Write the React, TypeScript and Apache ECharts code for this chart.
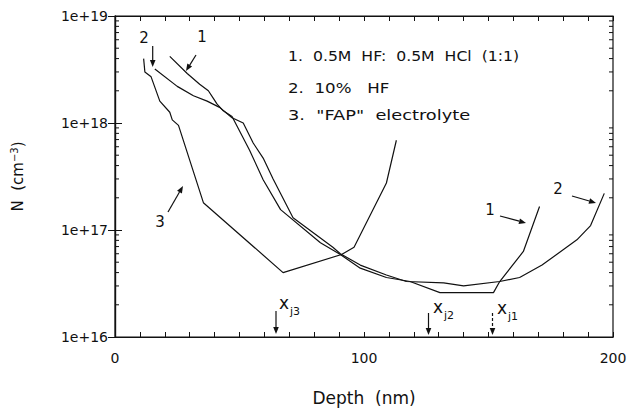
import React, { useEffect, useRef } from 'react';
import * as echarts from 'echarts';

// Curve 1: 0.5M HF : 0.5M HCl (1:1)
const depth1 = [22, 29, 34, 37.5, 39.5, 41, 43.5, 47, 54, 59.5, 66.5, 82.5, 90.5, 98.5, 109, 118.5, 130.5, 152, 154.5, 164, 170.5];
const conc1 = [4.2e18, 2.9e18, 2.3e18, 2.0e18, 1.7e18, 1.5e18, 1.3e18, 1.15e18, 5.6e17, 2.95e17, 1.55e17, 7.6e16, 5.9e16, 4.4e16, 3.6e16, 3.3e16, 2.6e16, 2.6e16, 3.3e16, 6.3e16, 1.66e17];

// Curve 2: 10% HF
const depth2 = [16, 25, 31.5, 37, 42, 47, 51.5, 55.5, 59.5, 63.5, 71.5, 87.5, 90.5, 98.5, 109, 117, 132, 140, 154.5, 162.5, 171.5, 185.5, 191, 196.5];
const conc2 = [3.2e18, 2.2e18, 1.8e18, 1.6e18, 1.4e18, 1.12e18, 1.0e18, 6.5e17, 4.7e17, 3.0e17, 1.3e17, 6.9e16, 6.0e16, 4.7e16, 3.8e16, 3.3e16, 3.2e16, 3.0e16, 3.3e16, 3.6e16, 4.7e16, 8.1e16, 1.1e17, 2.2e17];

// Curve 3: "FAP" electrolyte
const depth3 = [11.5, 12, 14.5, 18, 22, 23, 25.5, 35.5, 67.5, 91, 96, 109, 113];
const conc3 = [4.0e18, 3.0e18, 2.7e18, 1.6e18, 1.26e18, 1.07e18, 9.5e17, 1.8e17, 4.0e16, 5.9e16, 6.9e16, 2.75e17, 6.9e17];

const legendLines = ['1.  0.5M  HF:  0.5M  HCl  (1:1)', '2.  10%   HF', '3.  "FAP"  electrolyte'];
const xTickLabels = [0, 100, 200];
const yDecades = [16, 17, 18, 19];

const FONT = 'DejaVu Sans';
const INK = '#111';

function toPairs(xs: number[], ys: number[]) {
  return xs.map((x, i) => [x, ys[i]]);
}

function arrow(x1: number, y1: number, x2: number, y2: number, dashed = false) {
  const dx = x2 - x1;
  const dy = y2 - y1;
  const len = Math.sqrt(dx * dx + dy * dy);
  const ux = dx / len;
  const uy = dy / len;
  const hl = 7;
  const hw = 2.8;
  const bx = x2 - ux * hl;
  const by = y2 - uy * hl;
  return [
    {
      type: 'line',
      shape: { x1, y1, x2: bx, y2: by },
      style: { stroke: INK, lineWidth: 1.2, lineDash: dashed ? [3, 2] : null },
    },
    {
      type: 'polygon',
      shape: {
        points: [
          [x2, y2],
          [bx - uy * hw, by + ux * hw],
          [bx + uy * hw, by - ux * hw],
        ],
      },
      style: { fill: INK },
    },
  ];
}

function label(text: string, x: number, y: number, size = 15) {
  return {
    type: 'text',
    x,
    y,
    style: { text, fill: INK, font: `${size}px "${FONT}"`, textAlign: 'center', textVerticalAlign: 'middle' },
  };
}

function xj(x: number, y: number, sub: string) {
  return {
    type: 'text',
    x,
    y,
    style: {
      text: `{a|x}{b|${sub}}`,
      fill: INK,
      textVerticalAlign: 'middle',
      rich: {
        a: { fontSize: 17, fontFamily: FONT, color: INK, padding: [0, 1, 5, 0] },
        b: { fontSize: 11, fontFamily: FONT, color: INK, padding: [13, 0, 0, 0] },
      },
    },
  };
}

export default function App() {
  const ref = useRef<HTMLDivElement>(null);
  useEffect(() => {
    const chart = echarts.init(ref.current!, null, { renderer: 'svg' });
    const lineSeries = (data: number[][]) => ({
      type: 'line',
      data,
      showSymbol: false,
      symbol: 'none',
      lineStyle: { color: INK, width: 1.2 },
      itemStyle: { color: INK },
      xAxisIndex: 0,
      yAxisIndex: 0,
    });
    const tickStyle = { show: true, inside: true, length: 5, lineStyle: { color: INK, width: 1 } };
    chart.setOption({
      animation: false,
      backgroundColor: '#fff',
      grid: { left: 115, top: 16, right: 20, bottom: 75, show: true, borderColor: INK, borderWidth: 1.2, backgroundColor: 'transparent' },
      xAxis: [
        {
          type: 'value',
          min: 0,
          max: 200,
          interval: 10,
          position: 'bottom',
          axisLine: { show: true, lineStyle: { color: INK, width: 1.2 } },
          axisTick: tickStyle,
          splitLine: { show: false },
          axisLabel: {
            color: INK,
            fontFamily: FONT,
            fontSize: 14,
            margin: 14,
            formatter: (v: number) => (xTickLabels.includes(v) ? String(v) : ''),
          },
          name: 'Depth  (nm)',
          nameLocation: 'middle',
          nameGap: 52,
          nameTextStyle: { color: INK, fontFamily: FONT, fontSize: 17 },
        },
        {
          type: 'value',
          min: 0,
          max: 200,
          interval: 10,
          position: 'top',
          axisLine: { show: true, lineStyle: { color: INK, width: 1.2 } },
          axisTick: tickStyle,
          splitLine: { show: false },
          axisLabel: { show: false },
        },
      ],
      yAxis: [
        {
          type: 'log',
          logBase: 10,
          min: 1e16,
          max: 1e19,
          position: 'left',
          axisLine: { show: true, lineStyle: { color: INK, width: 1.2 } },
          axisTick: { ...tickStyle, length: 7 },
          splitLine: { show: false },
          axisLabel: {
            color: INK,
            fontFamily: FONT,
            fontSize: 14,
            margin: 7,
            formatter: (v: number) => '1e+' + Math.round(Math.log10(v)),
          },
          name: 'N  (cm{sup|−3})',
          nameLocation: 'middle',
          nameGap: 88,
          nameRotate: 90,
          nameTextStyle: {
            color: INK,
            fontFamily: FONT,
            fontSize: 15,
            rich: { sup: { fontSize: 10, fontFamily: FONT, color: INK, padding: [0, 0, 8, 0] } },
          },
        },
        {
          type: 'log',
          logBase: 10,
          min: 1e16,
          max: 1e19,
          position: 'right',
          axisLine: { show: true, lineStyle: { color: INK, width: 1.2 } },
          axisTick: { ...tickStyle, length: 7 },
          splitLine: { show: false },
          axisLabel: { show: false },
        },
      ],
      series: [
        lineSeries(toPairs(depth1, conc1)),
        lineSeries(toPairs(depth2, conc2)),
        lineSeries(toPairs(depth3, conc3)),
      ],
    });

    // logarithmic minor ticks on the left and right axes
    const g: any[] = [];
    const leftX = chart.convertToPixel({ xAxisIndex: 0 }, 0) as number;
    const rightX = chart.convertToPixel({ xAxisIndex: 0 }, 200) as number;
    for (let i = 0; i < yDecades.length - 1; i++) {
      for (let m = 2; m <= 9; m++) {
        const v = m * Math.pow(10, yDecades[i]);
        const py = chart.convertToPixel({ yAxisIndex: 0 }, v) as number;
        g.push({ type: 'line', shape: { x1: leftX, y1: py, x2: leftX + 4, y2: py }, style: { stroke: INK, lineWidth: 1 } });
        g.push({ type: 'line', shape: { x1: rightX - 4, y1: py, x2: rightX, y2: py }, style: { stroke: INK, lineWidth: 1 } });
      }
    }

    // legend text (plotter font is wide: stretch horizontally)
    const rowsY = [56, 88, 115];
    const rowScale = [1.12, 1.19, 1.27];
    legendLines.forEach((t, i) => {
      g.push({
        type: 'text',
        x: 288,
        y: rowsY[i],
        scaleX: rowScale[i],
        style: { text: t, fill: INK, font: `14px "${FONT}"`, textVerticalAlign: 'middle' },
      });
    });

    // curve annotations
    g.push(label('2', 144, 38));
    g.push(...arrow(152.7, 46, 152.7, 67));
    g.push(label('1', 202, 37));
    g.push(...arrow(196, 55, 186, 71));
    g.push(label('3', 160, 222));
    g.push(...arrow(168, 212, 183, 186));
    g.push(label('1', 490, 210));
    g.push(...arrow(500, 216, 526, 223));
    g.push(label('2', 558, 189));
    g.push(...arrow(572, 196, 596, 203));

    // junction depth markers
    g.push(xj(279, 305, 'j3'));
    g.push(...arrow(276, 311, 276, 334));
    g.push(xj(433, 309, 'j2'));
    g.push(...arrow(428.5, 313, 428.5, 335));
    g.push(xj(497, 310, 'j1'));
    g.push(...arrow(492.5, 313, 492.5, 335, true));

    chart.setOption({ graphic: g });
    return () => chart.dispose();
  }, []);
  return <div ref={ref} style={{ position: 'fixed', left: 0, top: 0, width: 633, height: 412 }} />;
}
